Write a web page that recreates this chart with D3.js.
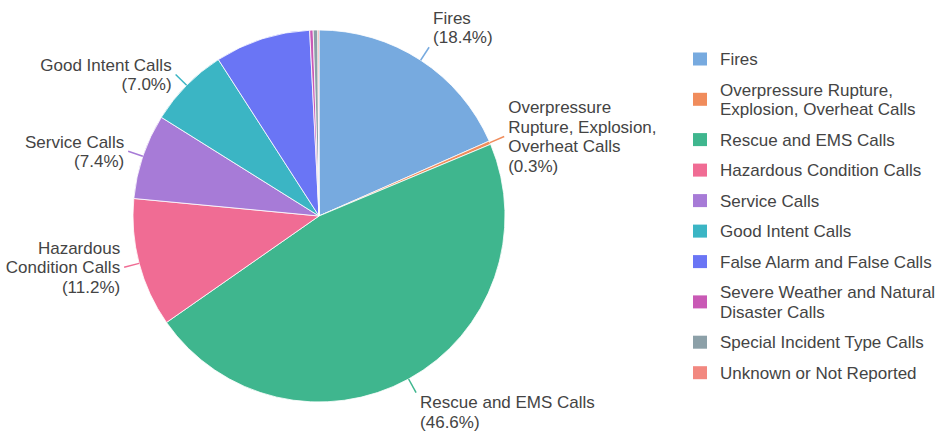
<!DOCTYPE html>
<html><head><meta charset="utf-8">
<script src="https://cdn.jsdelivr.net/npm/d3@7"></script>
<style>
body{margin:0;background:#fff}
svg{display:block}
text{font-family:"Liberation Sans",Arial,Helvetica,sans-serif;fill:#444}
</style>
</head><body>
<svg id="chart" width="937" height="433"></svg>
<script>
// ---- data ----
const categories = [
  "Fires",
  "Overpressure Rupture, Explosion, Overheat Calls",
  "Rescue and EMS Calls",
  "Hazardous Condition Calls",
  "Service Calls",
  "Good Intent Calls",
  "False Alarm and False Calls",
  "Severe Weather and Natural Disaster Calls",
  "Special Incident Type Calls",
  "Unknown or Not Reported"
];
const values = [18.4, 0.3, 46.6, 11.2, 7.4, 7.0, 8.3, 0.3, 0.4, 0.1];
const palette = ["#77aadf", "#f08c5c", "#3fb68e", "#f06c94", "#a77bd7",
                 "#3bb5c4", "#6a75f5", "#c959b5", "#8ca0a8", "#f28880"];
const legendLines = [
  ["Fires"],
  ["Overpressure Rupture,", "Explosion, Overheat Calls"],
  ["Rescue and EMS Calls"],
  ["Hazardous Condition Calls"],
  ["Service Calls"],
  ["Good Intent Calls"],
  ["False Alarm and False Calls"],
  ["Severe Weather and Natural", "Disaster Calls"],
  ["Special Incident Type Calls"],
  ["Unknown or Not Reported"]
];
const sliceLabelNames = [
  ["Fires"],
  ["Overpressure", "Rupture, Explosion,", "Overheat Calls"],
  ["Rescue and EMS Calls"],
  ["Hazardous", "Condition Calls"],
  ["Service Calls"],
  ["Good Intent Calls"],
  null, null, null, null
];

// ---- layout ----
const svg = d3.select("#chart");
const cx = 319, cy = 216, R = 186;
const fontSize = 17, lh = 19.6;

const color = d3.scaleOrdinal().domain(categories).range(palette);
const pie = d3.pie().sort(null).value(d => d.value).startAngle(0).endAngle(2 * Math.PI);
const data = categories.map((c, i) => ({ name: c, value: values[i], idx: i }));
const arcs = pie(data);
const arc = d3.arc().innerRadius(0).outerRadius(R);

const g = svg.append("g").attr("transform", `translate(${cx},${cy})`);
g.selectAll("path.slice").data(arcs).join("path")
  .attr("class", "slice")
  .attr("d", arc)
  .attr("fill", d => color(d.data.name))
  .attr("stroke", "#fff")
  .attr("stroke-width", 0.8);

// outside labels
const total = d3.sum(values);
const fmt = d3.format(".1f");
arcs.forEach(d => {
  const names = sliceLabelNames[d.data.idx];
  if (!names) return;
  const lines = names.concat([`(${fmt(d.data.value / total * 100)}%)`]);
  const a = (d.startAngle + d.endAngle) / 2;
  const s = Math.sin(a), c = Math.cos(a);
  const x0 = s * R, y0 = -c * R;
  const ext = 15.5;
  const x1 = s * (R + ext), y1 = -c * (R + ext);
  g.append("line")
    .attr("x1", x0).attr("y1", y0).attr("x2", x1).attr("y2", y1)
    .attr("stroke", color(d.data.name)).attr("stroke-width", 1.5);
  const n = lines.length;
  let centerY = y1;
  if (c > 0.75) centerY = y1 - n * lh / 2;
  else if (c < -0.75) centerY = y1 + n * lh / 2;
  const right = s >= 0;
  const tx = right ? x1 + 4 : x1 - 4;
  const firstBase = centerY - (n - 1) * lh / 2 + 6;
  const t = g.append("text")
    .attr("font-size", fontSize)
    .attr("text-anchor", right ? "start" : "end");
  lines.forEach((ln, k) => {
    t.append("tspan").attr("x", tx).attr("y", firstBase + k * lh).text(ln);
  });
});

// legend
const lg = svg.append("g");
let base = 65;
legendLines.forEach((lines, i) => {
  const item = lg.append("g");
  const lastBase = base + (lines.length - 1) * lh;
  const mid = (base + lastBase) / 2 - 6;
  item.append("rect")
    .attr("x", 693).attr("y", mid - 6.5).attr("width", 14).attr("height", 13)
    .attr("fill", color(categories[i]));
  const t = item.append("text").attr("font-size", fontSize);
  lines.forEach((ln, k) => {
    t.append("tspan").attr("x", 720).attr("y", base + k * lh).text(ln);
  });
  base = lastBase + 30.5;
});
</script>
</body></html>
